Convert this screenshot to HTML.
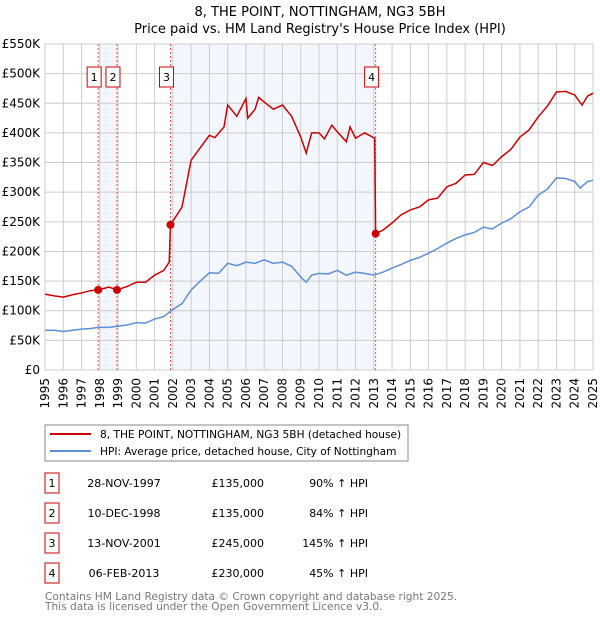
<!DOCTYPE html>
<html><head><meta charset="utf-8"><style>
body{margin:0;background:#fff;font-family:"Liberation Sans","DejaVu Sans",sans-serif;}
svg text{font-family:"DejaVu Sans","Liberation Sans",sans-serif;}
</style></head><body>
<svg id="c" width="600" height="620" xmlns="http://www.w3.org/2000/svg">
<text x="320" y="16" text-anchor="middle" font-size="13">8, THE POINT, NOTTINGHAM, NG3 5BH</text>
<text x="320" y="33" text-anchor="middle" font-size="13">Price paid vs. HM Land Registry's House Price Index (HPI)</text>
<g id="plot"></g>
<rect x="45" y="425" width="363" height="36" fill="#fff" stroke="#888"/>
<line x1="50" y1="434" x2="91" y2="434" stroke="#cc0000" stroke-width="2"/>
<text x="100" y="438" font-size="10.6">8, THE POINT, NOTTINGHAM, NG3 5BH (detached house)</text>
<line x1="50" y1="451" x2="91" y2="451" stroke="#5b8fd6" stroke-width="2"/>
<text x="100" y="455" font-size="10.6">HPI: Average price, detached house, City of Nottingham</text>
<g id="table" font-size="11"></g>
<text x="45" y="600" font-size="10.6" fill="#777">Contains HM Land Registry data © Crown copyright and database right 2025.</text>
<text x="45" y="610" font-size="10.6" fill="#777">This data is licensed under the Open Government Licence v3.0.</text>
</svg>
<script>
const hpiYears=[1995,1995.5,1996,1996.5,1997,1997.5,1997.9,1998.5,1999,1999.5,2000,2000.5,2001,2001.5,2001.9,2002.5,2003,2003.5,2004,2004.5,2005,2005.5,2006,2006.5,2007,2007.5,2008,2008.5,2009,2009.3,2009.6,2010,2010.5,2011,2011.5,2012,2012.5,2013,2013.5,2014,2014.5,2015,2015.5,2016,2016.5,2017,2017.5,2018,2018.5,2019,2019.5,2020,2020.5,2021,2021.5,2022,2022.5,2023,2023.5,2024,2024.3,2024.7,2025];
const hpiValues=[67,67,65,67,69,70,72,72,74,76,80,79,86,90,100,112,135,150,164,163,180,176,182,180,186,180,182,175,157,148,160,163,162,168,160,165,163,160,165,172,178,185,190,197,205,214,222,228,232,241,238,248,255,267,275,295,305,324,323,318,307,318,320];
const propYears=[1995,1995.5,1996,1996.5,1997,1997.5,1997.91,1998.5,1998.94,1999.5,2000,2000.5,2001,2001.5,2001.8,2001.87,2002.5,2003,2003.5,2004,2004.3,2004.8,2005,2005.5,2006,2006.1,2006.5,2006.7,2007,2007.5,2008,2008.5,2009,2009.3,2009.6,2010,2010.3,2010.7,2011,2011.5,2011.7,2012,2012.5,2013.05,2013.1,2013.5,2014,2014.5,2015,2015.5,2016,2016.5,2017,2017.5,2018,2018.5,2019,2019.5,2020,2020.5,2021,2021.5,2022,2022.5,2023,2023.5,2024,2024.4,2024.7,2025];
const propValues=[128,125,123,127,130,134,135,140,135,141,148,148,160,168,182,245,275,354,375,396,392,410,447,428,458,425,440,460,452,440,447,428,393,366,400,400,390,413,402,385,410,391,400,391,230,236,248,262,270,275,287,290,309,315,329,330,350,345,360,372,393,405,427,445,469,470,464,447,462,467];
const saleYears=[1997.91,1998.94,2001.87,2013.1];
const saleValues=[135,135,245,230];
const saleLabels=['1','2','3','4'];
const saleDates=['28-NOV-1997','10-DEC-1998','13-NOV-2001','06-FEB-2013'];
const salePrices=['£135,000','£135,000','£245,000','£230,000'];
const saleHpi=['90% ↑ HPI','84% ↑ HPI','145% ↑ HPI','45% ↑ HPI'];
const yTicks=[0,50,100,150,200,250,300,350,400,450,500,550];
const yTickLabels=['£0','£50K','£100K','£150K','£200K','£250K','£300K','£350K','£400K','£450K','£500K','£550K'];
const xTicks=[1995,1996,1997,1998,1999,2000,2001,2002,2003,2004,2005,2006,2007,2008,2009,2010,2011,2012,2013,2014,2015,2016,2017,2018,2019,2020,2021,2022,2023,2024,2025];

const X0=45,X1=593,Y0=370,Y1=44;
const xs=y=>X0+(y-1995)/30*(X1-X0);
const ys=v=>Y0-v/550*(Y0-Y1);
const NS='http://www.w3.org/2000/svg';
const plot=document.getElementById('plot');
function mk(tag,attrs,parent){const e=document.createElementNS(NS,tag);for(const k in attrs)e.setAttribute(k,attrs[k]);(parent||plot).appendChild(e);return e;}

let e;
e=mk('rect',{x:xs(saleYears[0]),y:Y1,width:xs(saleYears[1])-xs(saleYears[0]),height:Y0-Y1,fill:'#eef3fc',opacity:0.7});


e=mk('rect',{x:xs(saleYears[2]),y:Y1,width:xs(saleYears[3])-xs(saleYears[2]),height:Y0-Y1,fill:'#eef3fc',opacity:0.7});



xTicks.forEach(t=>{
  e=mk('line',{x1:xs(t),x2:xs(t),y1:Y1,y2:Y0,stroke:'#cccccc','stroke-width':1});
  
  
  e=mk('text',{x:0,y:0,'font-size':12,'text-anchor':'end',transform:`translate(${xs(t)+4},${Y0+8}) rotate(-90)`});
  e.textContent=t;
  
  
});
yTicks.forEach((t,i)=>{
  e=mk('line',{x1:X0,x2:X1,y1:ys(t),y2:ys(t),stroke:'#cccccc','stroke-width':1});
  
  
  e=mk('text',{x:40,y:ys(t)+4,'font-size':12,'text-anchor':'end'});
  e.textContent=yTickLabels[i];
  
  
});
e=mk('rect',{x:X0,y:Y1,width:X1-X0,height:Y0-Y1,fill:'none',stroke:'#cccccc'});



saleYears.forEach((s,i)=>{
  e=mk('line',{x1:xs(s),x2:xs(s),y1:Y1,y2:Y0,stroke:'#ee5555','stroke-width':1,'stroke-dasharray':'2,2'});
  
  
  e=mk('rect',{x:xs(s)-11,y:67,width:14,height:20,fill:'#fff',stroke:'#cc0000'});
  
  
  e=mk('text',{x:xs(s)-4,y:81,'font-size':11,'text-anchor':'middle'});
  e.textContent=saleLabels[i];
  
  
});

e=mk('polyline',{points:hpiYears.map((y,i)=>xs(y)+','+ys(hpiValues[i])).join(' '),fill:'none',stroke:'#5b8fd6','stroke-width':1.5});


e=mk('polyline',{points:propYears.map((y,i)=>xs(y)+','+ys(propValues[i])).join(' '),fill:'none',stroke:'#cc0000','stroke-width':1.5});


saleYears.forEach((s,i)=>{
  e=mk('circle',{cx:xs(s),cy:ys(saleValues[i]),r:4,fill:'#cc0000'});
  
  
});

const tbl=document.getElementById('table');
saleLabels.forEach((l,i)=>{
  const cy=483+i*30;
  e=mk('rect',{x:45,y:cy-10,width:14,height:20,fill:'#fff',stroke:'#cc0000'},tbl);
  
  
  e=mk('text',{x:52,y:cy+4,'text-anchor':'middle'},tbl);e.textContent=l;
  
  
  e=mk('text',{x:124,y:cy+4,'text-anchor':'middle'},tbl);e.textContent=saleDates[i];
  
  
  e=mk('text',{x:264,y:cy+4,'text-anchor':'end'},tbl);e.textContent=salePrices[i];
  
  
  e=mk('text',{x:368,y:cy+4,'text-anchor':'end'},tbl);e.textContent=saleHpi[i];
  
  
});
</script>
</body></html>
